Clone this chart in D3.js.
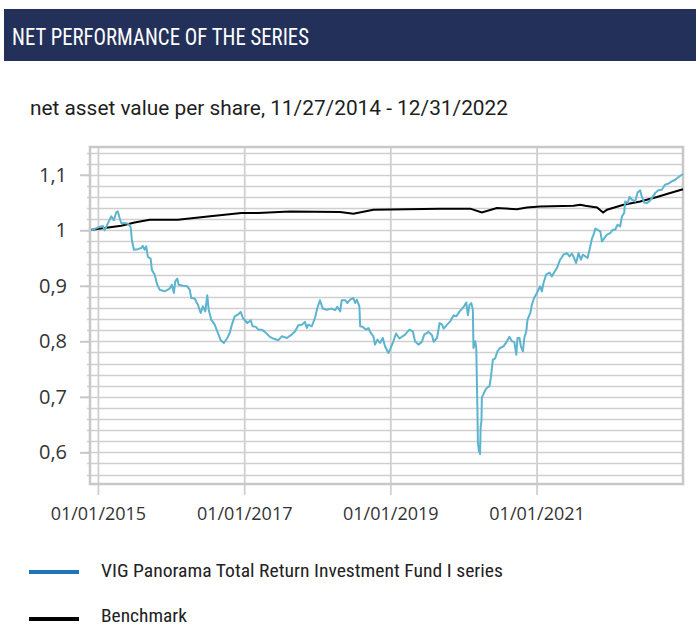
<!DOCTYPE html>
<html>
<head>
<meta charset="utf-8">
<script src="https://cdn.jsdelivr.net/npm/d3@7"></script>
<style>
  body { margin: 0; background: #fff; }
</style>
</head>
<body>
<div id="chart"></div>
<script>

// fund NAV
let fundDates = ["2014-11-27","2015-01-07","2015-01-23","2015-02-01","2015-02-17","2015-03-06","2015-03-19","2015-03-31","2015-04-08","2015-04-17","2015-04-25","2015-05-28","2015-06-11","2015-06-17","2015-06-27","2015-07-17","2015-08-03","2015-08-11","2015-08-20","2015-08-28","2015-09-05","2015-09-19","2015-09-25","2015-10-09","2015-10-22","2015-11-03","2015-11-28","2015-12-23","2016-01-03","2016-01-13","2016-01-20","2016-01-30","2016-02-06","2016-02-27","2016-03-20","2016-04-01","2016-04-09","2016-04-26","2016-05-12","2016-05-26","2016-06-06","2016-06-18","2016-06-28","2016-07-05","2016-07-18","2016-08-04","2016-08-20","2016-09-03","2016-09-19","2016-10-06","2016-10-18","2016-10-29","2016-11-12","2016-11-28","2016-12-12","2016-12-23","2017-01-14","2017-01-31","2017-02-10","2017-02-26","2017-03-10","2017-03-27","2017-04-12","2017-05-07","2017-05-24","2017-06-18","2017-07-05","2017-07-30","2017-08-24","2017-09-10","2017-09-26","2017-10-13","2017-10-29","2017-11-07","2017-11-15","2017-12-02","2017-12-18","2017-12-30","2018-01-12","2018-01-26","2018-02-15","2018-03-12","2018-03-29","2018-04-09","2018-04-23","2018-05-01","2018-05-18","2018-05-29","2018-06-12","2018-06-28","2018-07-07","2018-07-15","2018-07-28","2018-08-01","2018-08-14","2018-08-31","2018-09-11","2018-09-23","2018-10-06","2018-10-14","2018-10-26","2018-11-08","2018-11-22","2018-12-03","2018-12-20","2018-12-28","2019-01-11","2019-01-27","2019-02-13","2019-03-13","2019-04-04","2019-04-21","2019-05-02","2019-05-19","2019-06-05","2019-06-17","2019-07-09","2019-07-26","2019-08-03","2019-08-20","2019-09-02","2019-09-14","2019-09-22","2019-10-09","2019-10-25","2019-11-11","2019-11-24","2019-12-11","2019-12-31","2020-01-13","2020-01-21","2020-01-29","2020-02-07","2020-02-15","2020-02-18","2020-02-27","2020-03-03","2020-03-09","2020-03-11","2020-03-16","2020-03-22","2020-03-25","2020-03-29","2020-03-31","2020-04-08","2020-04-18","2020-04-28","2020-05-08","2020-05-15","2020-05-25","2020-06-05","2020-06-17","2020-06-30","2020-07-17","2020-08-03","2020-08-16","2020-08-28","2020-09-09","2020-09-19","2020-09-25","2020-10-05","2020-10-12","2020-10-22","2020-10-29","2020-11-08","2020-11-14","2020-11-28","2020-12-06","2020-12-17","2020-12-31","2021-01-16","2021-01-25","2021-02-02","2021-02-15","2021-03-04","2021-03-16","2021-03-27","2021-04-10","2021-04-26","2021-05-13","2021-05-30","2021-06-12","2021-06-24","2021-07-05","2021-07-15","2021-07-27","2021-08-08","2021-08-18","2021-08-30","2021-09-10","2021-09-20","2021-10-02","2021-10-10","2021-10-19","2021-11-04","2021-11-13","2021-11-21","2021-12-03","2021-12-16","2022-01-01","2022-01-15","2022-01-26","2022-02-07","2022-02-20","2022-03-01","2022-03-12","2022-03-17","2022-03-29","2022-04-08","2022-04-20","2022-05-06","2022-05-18","2022-05-31","2022-06-08","2022-06-20","2022-07-03","2022-07-16","2022-07-28","2022-08-14","2022-08-30","2022-09-16","2022-10-02","2022-10-19","2022-11-05","2022-11-22","2022-12-09","2022-12-26","2022-12-31"];
let fundValues = [1.000,1.006,1.008,1.000,1.012,1.025,1.018,1.032,1.034,1.022,1.013,1.012,1.006,0.983,0.965,0.966,0.968,0.972,0.965,0.971,0.952,0.949,0.929,0.920,0.902,0.893,0.890,0.895,0.902,0.887,0.908,0.913,0.902,0.900,0.899,0.893,0.878,0.877,0.866,0.851,0.863,0.854,0.883,0.857,0.839,0.830,0.815,0.802,0.797,0.806,0.815,0.830,0.845,0.848,0.853,0.842,0.833,0.838,0.827,0.826,0.821,0.821,0.817,0.808,0.805,0.802,0.809,0.806,0.812,0.818,0.829,0.830,0.835,0.824,0.830,0.827,0.842,0.860,0.874,0.859,0.857,0.859,0.856,0.862,0.854,0.874,0.874,0.869,0.875,0.878,0.869,0.875,0.863,0.827,0.826,0.821,0.824,0.815,0.809,0.794,0.803,0.797,0.806,0.791,0.779,0.785,0.797,0.814,0.805,0.812,0.821,0.818,0.800,0.794,0.799,0.812,0.817,0.811,0.799,0.806,0.833,0.830,0.823,0.830,0.836,0.847,0.845,0.854,0.862,0.870,0.847,0.865,0.869,0.857,0.788,0.800,0.788,0.672,0.618,0.603,0.597,0.647,0.656,0.699,0.705,0.713,0.717,0.719,0.735,0.767,0.769,0.782,0.788,0.791,0.800,0.808,0.800,0.799,0.776,0.806,0.806,0.791,0.782,0.806,0.818,0.839,0.851,0.866,0.878,0.887,0.899,0.890,0.905,0.920,0.924,0.917,0.924,0.932,0.947,0.956,0.959,0.953,0.958,0.950,0.941,0.959,0.947,0.956,0.953,0.950,0.965,0.985,0.992,1.003,1.000,0.998,0.980,0.986,0.992,0.995,1.001,1.001,1.010,1.007,1.025,1.031,1.052,1.049,1.060,1.055,1.052,1.068,1.072,1.061,1.050,1.049,1.052,1.058,1.067,1.072,1.073,1.082,1.084,1.088,1.091,1.096,1.100,1.101];

// benchmark
let benchDates = ["2014-11-27","2015-04-25","2015-07-01","2015-09-14","2016-02-02","2016-07-01","2016-12-15","2017-03-08","2017-08-15","2018-04-23","2018-06-28","2018-10-06","2019-03-22","2019-09-04","2020-02-02","2020-03-31","2020-06-14","2020-09-22","2020-11-11","2021-01-16","2021-07-02","2021-08-05","2021-08-30","2021-10-10","2021-10-28","2021-11-13","2021-11-27","2021-12-16","2022-03-09","2022-05-31","2022-08-23","2022-10-28","2022-12-31"];
let benchValues = [1.001,1.008,1.014,1.019,1.019,1.025,1.031,1.031,1.034,1.033,1.030,1.037,1.038,1.039,1.039,1.032,1.040,1.038,1.041,1.043,1.044,1.046,1.044,1.042,1.041,1.036,1.032,1.037,1.046,1.052,1.060,1.067,1.074];

// axes
let yTicks = [0.6, 0.7, 0.8, 0.9, 1.0, 1.1];
let yTickLabels = ["0,6", "0,7", "0,8", "0,9", "1", "1,1"];
let xTicks = ["2015-01-01", "2017-01-01", "2019-01-01", "2021-01-01"];

let seriesNames = ["VIG Panorama Total Return Investment Fund I series", "Benchmark"];

let parseDate = d3.timeParse("%Y-%m-%d");
let fund = fundDates.map(function(d, i) { return {date: parseDate(d), value: fundValues[i]}; });
let bench = benchDates.map(function(d, i) { return {date: parseDate(d), value: benchValues[i]}; });

let width = 696, height = 626;
let plot = {left: 90, right: 683, top: 147, bottom: 484};
let condensed = "'Roboto Condensed','Liberation Sans Narrow','DejaVu Sans Condensed',Roboto,sans-serif";

let svg = d3.select("#chart")
  .append("svg")
    .attr("width", width)
    .attr("height", height);

// title bar
svg.append("rect").attr("x", 4).attr("y", 9).attr("width", 692).attr("height", 52).style("fill", "#233059");
svg.append("text").attr("x", 12).attr("y", 44.5)
  .text("NET PERFORMANCE OF THE SERIES")
  .attr("textLength", 297).attr("lengthAdjust", "spacingAndGlyphs")
  .style("font-family", condensed).style("font-size", "24.5px").style("fill", "#fff");

svg.append("text").attr("x", 30).attr("y", 114.5)
  .text("net asset value per share, 11/27/2014 - 12/31/2022")
  .attr("textLength", 478).attr("lengthAdjust", "spacingAndGlyphs")
  .style("font-family", "Roboto,sans-serif").style("font-size", "19.5px").style("fill", "#1e1e1e");

// scales
let x = d3.scaleTime()
  .domain([parseDate("2014-11-20"), parseDate("2022-12-31")])
  .range([plot.left, plot.right]);

let y = d3.scaleLinear()
  .domain([0.543, 1.15])
  .range([plot.bottom, plot.top]);

// minor horizontal grid every 0.02
let minor = d3.range(0.56, 1.141, 0.02);
svg.selectAll(".hgrid")
  .data(minor).enter()
  .append("line")
    .attr("x1", plot.left - 3).attr("x2", plot.right)
    .attr("y1", function(d) { return Math.round(y(d)) + 0.5; })
    .attr("y2", function(d) { return Math.round(y(d)) + 0.5; })
    .style("stroke", "#cfcfcf").style("stroke-width", 1.6);

// vertical grid at date ticks
svg.selectAll(".vgrid")
  .data(xTicks).enter()
  .append("line")
    .attr("x1", function(d) { return x(parseDate(d)); })
    .attr("x2", function(d) { return x(parseDate(d)); })
    .attr("y1", plot.top).attr("y2", plot.bottom + 11)
    .style("stroke", "#cfcfcf").style("stroke-width", 1.8);

// frame
svg.append("rect")
  .attr("x", plot.left).attr("y", plot.top)
  .attr("width", plot.right - plot.left).attr("height", plot.bottom - plot.top)
  .style("fill", "none").style("stroke", "#c8c8c8").style("stroke-width", 2.5);

// y axis
let yAxis = svg.append("g")
  .attr("transform", "translate(" + plot.left + ",0)")
  .call(d3.axisLeft(y).tickValues(yTicks).tickSize(10).tickPadding(13)
    .tickFormat(function(d, i) { return yTickLabels[i]; }));
yAxis.select(".domain").remove();
yAxis.selectAll("line").style("stroke", "#c8c8c8").style("stroke-width", 2);
yAxis.selectAll("text")
  .style("font-family", "'Open Sans',sans-serif").style("font-size", "20px").style("fill", "#333");

// x axis labels
svg.selectAll(".xlab")
  .data(xTicks).enter()
  .append("text")
    .attr("x", function(d) { return x(parseDate(d)); })
    .attr("y", 520)
    .style("text-anchor", "middle")
    .text(function(d) { return d3.timeFormat("%m/%d/%Y")(parseDate(d)); })
    .style("font-family", "'Open Sans',sans-serif").style("font-size", "18px").style("fill", "#333");

// lines
let line = d3.line()
  .x(function(d) { return x(d.date); })
  .y(function(d) { return y(d.value); });

svg.append("path").datum(bench)
  .attr("d", line)
  .style("fill", "none").style("stroke", "#000").style("stroke-width", 2);

svg.append("path").datum(fund)
  .attr("d", line)
  .style("fill", "none").style("stroke", "#5db4cf").style("stroke-width", 2)
  .style("stroke-linejoin", "round");

// legend
let legendColors = ["#1f74bb", "#000"];
let legend = svg.selectAll(".legend")
  .data(seriesNames).enter()
  .append("g")
    .attr("transform", function(d, i) { return "translate(29," + (572 + i * 47) + ")"; });
legend.append("line").attr("x1", 0).attr("x2", 50).attr("y1", 0).attr("y2", 0)
  .style("stroke", function(d, i) { return legendColors[i]; }).style("stroke-width", 4);
legend.append("text").attr("x", 72).attr("y", function(d, i) { return i == 0 ? 5 : 3; })
  .text(function(d) { return d; })
  .attr("textLength", function(d, i) { return i == 0 ? 402 : 86; })
  .attr("lengthAdjust", "spacingAndGlyphs")
  .style("font-family", condensed).style("font-size", "19px").style("fill", "#222");

</script>
</body>
</html>
